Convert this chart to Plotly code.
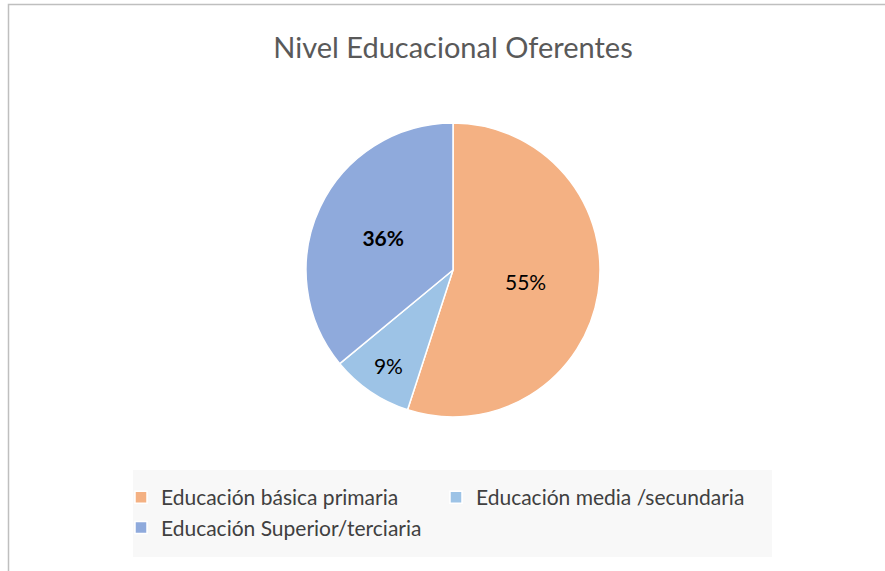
import plotly.graph_objects as go

W, H = 885, 571

labels = [
    "Educación básica primaria",
    "Educación media /secundaria",
    "Educación Superior/terciaria",
]
values = [55, 9, 36]
bold = [False, False, True]
colors = ["#F4B183", "#9DC3E6", "#8FAADC"]

total = sum(values)
texts = []
for v, b in zip(values, bold):
    t = f"{round(100 * v / total)}%"
    texts.append(f"<b>{t}</b>" if b else t)


def px_x(x):
    return x / W


def px_y(y):
    return 1 - y / H


fig = go.Figure(go.Pie(
    labels=labels,
    values=values,
    text=texts,
    textinfo="text",
    textposition="inside",
    insidetextorientation="horizontal",
    textfont=dict(family="Lato, sans-serif", size=21, color="#000000"),
    marker=dict(colors=colors, line=dict(color="#FFFFFF", width=1.5)),
    sort=False,
    direction="clockwise",
    rotation=0,
    domain=dict(x=[px_x(306), px_x(600)], y=[px_y(417), px_y(123)]),
    hoverinfo="label+percent",
))

fig.update_layout(
    width=W, height=H,
    margin=dict(l=0, r=0, t=0, b=0),
    paper_bgcolor="#FFFFFF",
    plot_bgcolor="#FFFFFF",
    font=dict(family="Lato, sans-serif", color="#404040"),
    title=dict(
        text="Nivel Educacional Oferentes",
        x=px_x(453), xanchor="center",
        y=px_y(48), yanchor="middle",
        font=dict(family="Lato, sans-serif", size=29, color="#595959"),
    ),
    showlegend=True,
    legend=dict(
        orientation="h",
        x=px_x(121), xanchor="left",
        y=px_y(477), yanchor="top",
        bgcolor="rgba(0,0,0,0)",
        font=dict(family="Lato, sans-serif", size=21, color="#404040"),
        entrywidth=270, entrywidthmode="pixels",
        traceorder="normal",
    ),
    shapes=[
        # chart frame
        dict(type="rect", xref="paper", yref="paper",
             x0=px_x(8.5), x1=px_x(900), y0=px_y(600), y1=px_y(4.5),
             line=dict(color="#BFBFBF", width=1.5), fillcolor="rgba(0,0,0,0)",
             layer="below"),
        # legend background
        dict(type="rect", xref="paper", yref="paper",
             x0=px_x(133), x1=px_x(772), y0=px_y(557), y1=px_y(470),
             line=dict(width=0), fillcolor="#F8F8F8", layer="below"),
    ],
)

# drop the default page margin so the figure sits at the window's corner
fig.write_html(
    "out.html",
    config={"displayModeBar": False},
    post_script="document.body.style.margin = '0';",
)
